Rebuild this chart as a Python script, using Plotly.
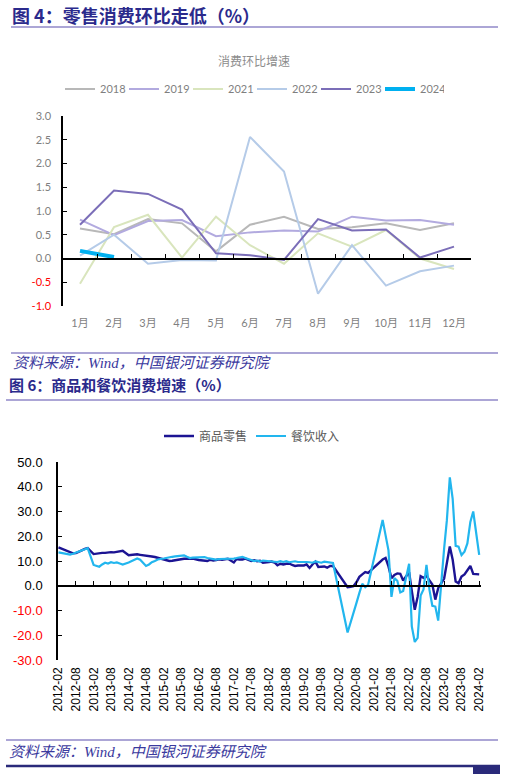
import plotly.graph_objects as go

W, H = 506, 774

# ---------------- Chart 1 data: month-on-month retail growth (%) ----------------
month_labels = ["1月", "2月", "3月", "4月", "5月", "6月", "7月", "8月", "9月", "10月", "11月", "12月"]
mom_2018 = [0.63, 0.51, 0.83, 0.74, 0.15, 0.71, 0.88, 0.62, 0.66, 0.74, 0.60, 0.74]
mom_2019 = [0.82, 0.49, 0.79, 0.81, 0.47, 0.55, 0.59, 0.57, 0.88, 0.80, 0.81, 0.71]
mom_2021 = [-0.53, 0.66, 0.92, 0.02, 0.88, 0.28, -0.11, 0.53, 0.25, 0.60, 0.00, -0.22]
mom_2022 = [0.06, 0.50, -0.11, -0.03, -0.04, 2.56, 1.83, -0.74, 0.28, -0.57, -0.27, -0.15]
mom_2023 = [0.71, 1.43, 1.36, 1.03, 0.11, 0.07, -0.03, 0.83, 0.59, 0.61, 0.02, 0.25]
mom_2024 = [0.16, 0.03]
year_names = ["2018", "2019", "2021", "2022", "2023", "2024"]
y1_ticks = [-1.0, -0.5, 0.0, 0.5, 1.0, 1.5, 2.0, 2.5, 3.0]

# ---------------- Chart 2 data: goods retail & catering yoy (%) ----------------
missing_months = {"2020-02", "2020-03", "2020-04", "2021-02", "2021-03", "2021-04"}
months = [f"{y}-{m:02d}" for y in range(2012, 2025) for m in range(2, 13)
          if not (y == 2024 and m > 2)]
months = [m for m in months if m not in missing_months]

goods = [
    15.5, 15.0, 14.5, 14.0, 13.5, 13.1, 13.2, 13.9, 14.3, 14.9, 15.2,   # 2012
    12.8, 13.0, 13.2, 13.3, 13.3, 13.5, 13.6, 13.5, 13.7, 13.9, 14.1,   # 2013
    12.3, 12.4, 12.6, 12.7, 12.5, 12.4, 12.1, 12.0, 11.8, 11.6, 11.3,   # 2014
    10.6, 10.2, 10.0, 10.1, 10.4, 10.5, 10.7, 10.9, 11.0, 11.1, 11.0,   # 2015
    10.4, 10.3, 10.2, 10.0, 10.5, 10.2, 10.4, 10.7, 10.5, 10.8, 10.9,   # 2016
    9.4, 10.8, 10.6, 10.6, 11.0, 10.4, 10.0, 10.3, 9.9, 10.1, 9.3,      # 2017
    9.6, 9.8, 9.4, 8.3, 8.9, 8.6, 8.9, 9.0, 8.4, 8.0, 8.2,              # 2018
    8.2, 8.6, 7.2, 8.6, 9.7, 7.6, 7.6, 7.8, 7.3, 8.0, 8.0,              # 2019
    -0.6, -0.4, -0.2, 1.4, 3.6, 4.6, 5.5, 5.2,                          # 2020 May-Dec
    10.6, 11.2, 7.8, 3.0, 4.4, 5.0, 4.8, 2.1,                           # 2021 May-Dec
    5.5, -2.1, -9.7, -4.5, 3.9, 3.2, 4.0, 2.2, 0.5, -5.6, -1.0,         # 2022
    2.9, 9.1, 15.9, 10.5, 1.7, 1.0, 3.7, 4.6, 6.5, 8.0, 4.8,            # 2023
    4.6,                                                                # 2024
]
catering = [
    13.5, 13.3, 13.1, 12.7, 12.6, 12.9, 13.4, 14.0, 14.4, 14.9, 15.2,   # 2012
    8.4, 8.0, 7.7, 8.6, 9.3, 9.0, 9.5, 9.2, 9.4, 9.0, 8.6,              # 2013
    9.4, 10.0, 10.6, 11.0, 10.5, 9.3, 8.0, 8.6, 9.5, 10.0, 10.6,        # 2014
    11.0, 11.3, 11.6, 11.7, 11.9, 12.1, 12.2, 12.3, 11.7, 11.2, 11.4,   # 2015
    11.4, 11.7, 11.6, 11.2, 11.0, 10.8, 10.6, 10.8, 10.8, 10.7, 11.0,   # 2016
    11.0, 11.2, 11.5, 11.7, 11.2, 10.8, 10.3, 10.0, 10.2, 9.8, 10.2,    # 2017
    10.0, 10.1, 9.7, 9.6, 9.9, 9.6, 9.9, 9.5, 9.8, 9.9, 9.6,            # 2018
    9.8, 9.6, 9.5, 9.3, 9.8, 9.6, 9.3, 9.7, 9.5, 9.4, 9.2,              # 2019
    -18.9, -15.2, -11.0, -7.0, -2.9, 0.8, -0.6, 0.4,                    # 2020 May-Dec
    26.6, 20.0, 14.3, -4.5, 3.1, 2.0, -2.7, -2.1,                       # 2021 May-Dec
    8.9, -16.4, -22.7, -21.1, -4.0, -1.5, 8.4, -1.7, -8.1, -8.4, -14.1, # 2022
    15.1, 26.3, 43.8, 35.1, 16.1, 15.8, 12.4, 13.8, 17.1, 25.8, 30.0,   # 2023
    12.5,                                                               # 2024
]
x2_ticks = [f"{y}-{m:02d}" for y in range(2012, 2025) for m in (2, 8)][:-1]
y2_ticks = [-30, -20, -10, 0, 10, 20, 30, 40, 50]

# ---------------- styling ----------------
NAVY = "#2b2a8c"
RULE = "#9089c8"
GRAY = "#7f7f7f"
RED = "#ff0000"
CJK = "Noto Sans CJK SC"
FONT1 = "Lato, " + CJK
ARIAL = "Liberation Sans, Arial, " + CJK

def px_x(p):
    return p / W

def px_y(p):
    return 1 - p / H

series_colors = ["#b8b8b8", "#b2aadf", "#d9e5bd", "#b5cbe8", "#7b6eb8", "#00b0f0"]
series_widths = [2, 2, 2, 2, 2, 4]
series_vals = [mom_2018, mom_2019, mom_2021, mom_2022, mom_2023, mom_2024]

fig = go.Figure()

# chart 1 lines
for name, vals, c, w in zip(year_names, series_vals, series_colors, series_widths):
    fig.add_trace(go.Scatter(
        x=list(range(1, len(vals) + 1)), y=vals, mode="lines", name=name,
        line=dict(color=c, width=w), xaxis="x", yaxis="y", legend="legend",
        hoverinfo="skip"))
# helper (empty) trace so the zero-level axis with ticks is created
fig.add_trace(go.Scatter(x=[], y=[], xaxis="x2", yaxis="y", showlegend=False, hoverinfo="skip"))

# chart 2 lines
fig.add_trace(go.Scatter(x=months, y=goods, mode="lines", name="商品零售",
                         line=dict(color="#1c1493", width=2.4), xaxis="x3", yaxis="y3",
                         legend="legend2", hoverinfo="skip"))
fig.add_trace(go.Scatter(x=months, y=catering, mode="lines", name="餐饮收入",
                         line=dict(color="#22b6ee", width=2.2), xaxis="x3", yaxis="y3",
                         legend="legend2", hoverinfo="skip"))
fig.add_trace(go.Scatter(x=[], y=[], xaxis="x4", yaxis="y3", showlegend=False, hoverinfo="skip"))

# ---------------- axes ----------------
c1_dom_x = [px_x(63), px_x(471)]
c1_dom_y = [px_y(306), px_y(116)]
c1_zero = c1_dom_y[0] + (c1_dom_y[1] - c1_dom_y[0]) * (0 - (-1)) / 4

c2_dom_x = [px_x(58), px_x(481)]
c2_dom_y = [px_y(660), px_y(462)]
c2_zero = c2_dom_y[0] + (c2_dom_y[1] - c2_dom_y[0]) * (0 - (-30)) / 80

def neg_red(v, fmt):
    s = fmt.format(v)
    return f"<span style='color:{RED}'>{s}</span>" if v < 0 else s

fig.update_layout(
    width=W, height=H, margin=dict(l=0, r=0, t=0, b=0, autoexpand=False),
    paper_bgcolor="white", plot_bgcolor="white",
    xaxis=dict(domain=c1_dom_x, anchor="y", range=[0.5, 12.5],
               tickvals=list(range(1, 13)), ticktext=month_labels,
               showline=False, showgrid=False, zeroline=False, ticks="",
               ticklabelstandoff=9,
               tickfont=dict(family=FONT1, size=11, color=GRAY)),
    xaxis2=dict(overlaying="x", anchor="free", position=c1_zero, range=[0.5, 12.5],
                tickvals=[i + 0.5 for i in range(0, 13)], showticklabels=False,
                showline=True, linecolor="black", linewidth=1.5,
                ticks="inside", ticklen=4, tickwidth=1.2, tickcolor="black",
                showgrid=False, zeroline=False),
    yaxis=dict(domain=c1_dom_y, anchor="x", range=[-1, 3],
               tickvals=y1_ticks, ticktext=[neg_red(v, "{:.1f}") for v in y1_ticks],
               showline=True, linecolor="black", linewidth=1.5,
               ticks="inside", ticklen=4, tickcolor="black",
               showgrid=False, zeroline=False, ticklabelstandoff=8,
               tickfont=dict(family=FONT1, size=11, color=GRAY)),
    xaxis3=dict(domain=c2_dom_x, anchor="y3", type="date",
                range=["2012-01-27", "2024-02-20"],
                tickvals=x2_ticks, ticktext=x2_ticks, tickangle=-90,
                showline=False, showgrid=False, zeroline=False, ticks="",
                ticklabelstandoff=4,
                tickfont=dict(family=ARIAL, size=12, color="black")),
    xaxis4=dict(overlaying="x3", anchor="free", position=c2_zero, type="date",
                range=["2012-01-27", "2024-02-20"], tickvals=x2_ticks,
                showticklabels=False, showline=True, linecolor="black", linewidth=1.5,
                ticks="inside", ticklen=4, tickwidth=1.2, tickcolor="black",
                showgrid=False, zeroline=False),
    yaxis3=dict(domain=c2_dom_y, anchor="x3", range=[-30, 50],
                tickvals=y2_ticks, ticktext=[neg_red(v, "{:.1f}") for v in y2_ticks],
                showline=True, linecolor="black", linewidth=1.5,
                ticks="inside", ticklen=4, tickcolor="black",
                showgrid=False, zeroline=False, ticklabelstandoff=11,
                tickfont=dict(family=ARIAL, size=13, color="black")),
    legend=dict(orientation="h", x=px_x(60), y=px_y(89), xanchor="left", yanchor="middle",
                font=dict(family=FONT1, size=11, color=GRAY), bgcolor="rgba(0,0,0,0)",
                entrywidth=19, entrywidthmode="pixels", itemwidth=30),
    legend2=dict(orientation="h", x=px_x(159), y=px_y(436), xanchor="left", yanchor="middle",
                 font=dict(family=CJK, size=12, color="#595959"), bgcolor="rgba(0,0,0,0)",
                 entrywidth=47, entrywidthmode="pixels", itemwidth=30),
    showlegend=True,
)

# ---------------- page text & rules ----------------
def paper_text(text, x, y, size, color, family, xanchor="left"):
    return dict(text=text, x=px_x(x), y=px_y(y), xref="paper", yref="paper",
                xanchor=xanchor, yanchor="middle", showarrow=False,
                font=dict(family=family, size=size, color=color))

SERIF = "Liberation Serif, " + CJK
ann = [
    paper_text("<b>图 4：零售消费环比走低（%）</b>", 10, 15, 18, NAVY, CJK),
    paper_text("消费环比增速", 254, 60, 12, "#8c8c8c", CJK, xanchor="center"),
    paper_text("<i>资料来源：Wind，中国银河证券研究院</i>", 11, 363, 15, "#3b3a9e", SERIF),
    paper_text("<b>图 6：商品和餐饮消费增速（%）</b>", 7, 385, 15, NAVY, CJK),
    paper_text("<i>资料来源：Wind，中国银河证券研究院</i>", 7, 752, 15, "#3b3a9e", SERIF),
]
fig.update_layout(annotations=ann)

shapes = []
for yy, x0, x1 in [(27, 11, 498), (353, 11, 498), (400, 6, 498), (740, 6, 498)]:
    shapes.append(dict(type="line", xref="paper", yref="paper", x0=px_x(x0), x1=px_x(x1),
                       y0=px_y(yy), y1=px_y(yy), line=dict(color=RULE, width=1.5)))
shapes.append(dict(type="line", xref="paper", yref="paper", x0=px_x(6), x1=px_x(500),
                   y0=px_y(766), y1=px_y(766), line=dict(color="#2a2a7a", width=2.5)))
shapes.append(dict(type="rect", xref="paper", yref="paper", x0=px_x(473), x1=px_x(500),
                   y0=0, y1=px_y(765), fillcolor="#2a2a7a", line=dict(width=0)))
fig.update_layout(shapes=shapes)

fig.write_html("out.html")
